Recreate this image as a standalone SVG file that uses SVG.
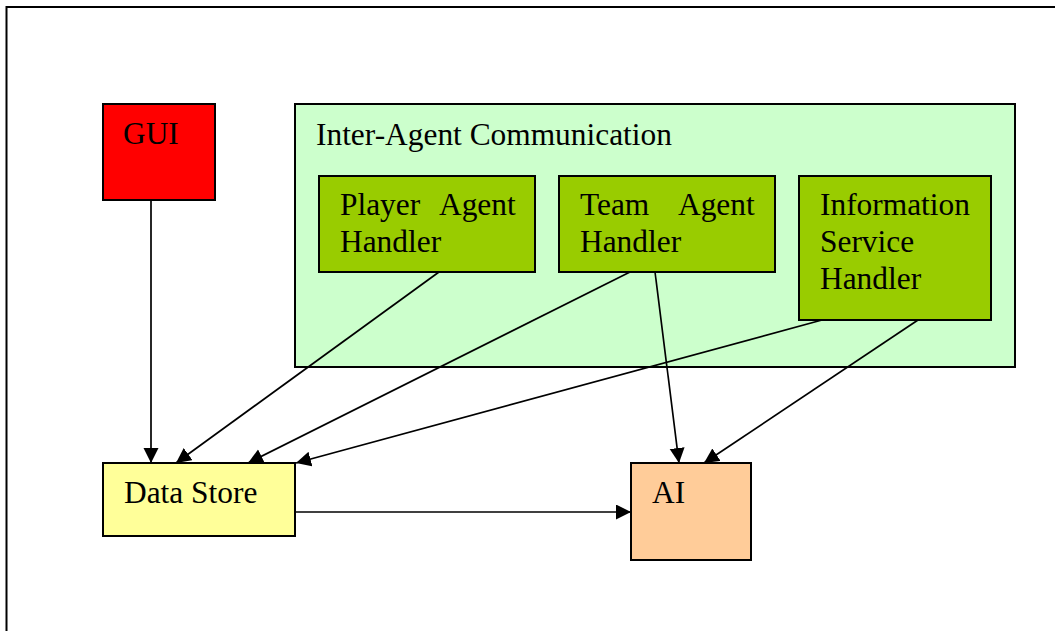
<svg xmlns="http://www.w3.org/2000/svg" width="1055" height="631" viewBox="0 0 1055 631">
  <style>
    .box { stroke: #000; stroke-width: 2; }
    .lbl { font-family: "Liberation Serif", "Times New Roman", serif; font-size: 31.4px; fill: #000; }
    .link { stroke: #000; stroke-width: 1.7; fill: none; marker-end: url(#head); }
  </style>
  <defs>
    <marker id="head" markerUnits="userSpaceOnUse" markerWidth="17" markerHeight="16" refX="15" refY="7.5" orient="auto">
      <path d="M0,0 L15,7.5 L0,15 z" fill="#000"/>
    </marker>
  </defs>

  <rect width="1055" height="631" fill="#fff"/>
  <!-- page frame -->
  <path d="M6.5,640 V7 H1060" fill="none" stroke="#000" stroke-width="2"/>

  <g id="gui">
    <rect class="box" x="103" y="104" width="112" height="96" fill="#ff0000"/>
    <text class="lbl" x="123" y="144">GUI</text>
  </g>

  <g id="inter-agent">
    <rect class="box" x="295" y="104" width="720" height="263" fill="#ccffcc"/>
    <text class="lbl" x="316" y="145">Inter-Agent Communication</text>
  </g>

  <g id="player-agent-handler">
    <rect class="box" x="319" y="176" width="216" height="96" fill="#99cc00"/>
    <text class="lbl" x="340" y="215">Player</text>
    <text class="lbl" x="439" y="215">Agent</text>
    <text class="lbl" x="340" y="252">Handler</text>
  </g>

  <g id="team-agent-handler">
    <rect class="box" x="559" y="176" width="216" height="96" fill="#99cc00"/>
    <text class="lbl" x="580" y="215">Team</text>
    <text class="lbl" x="678" y="215">Agent</text>
    <text class="lbl" x="580" y="252">Handler</text>
  </g>

  <g id="information-service-handler">
    <rect class="box" x="799" y="176" width="192" height="144" fill="#99cc00"/>
    <text class="lbl" x="820" y="215">Information</text>
    <text class="lbl" x="820" y="252">Service</text>
    <text class="lbl" x="820" y="289">Handler</text>
  </g>

  <g id="data-store">
    <rect class="box" x="103" y="463" width="192" height="73" fill="#ffff99"/>
    <text class="lbl" x="124" y="503">Data Store</text>
  </g>

  <g id="ai">
    <rect class="box" x="631" y="463" width="120" height="97" fill="#ffcc99"/>
    <text class="lbl" x="652" y="503">AI</text>
  </g>

  <g id="connectors">
    <line class="link" x1="151" y1="200" x2="151" y2="463"/>
    <line class="link" x1="439" y1="272" x2="176" y2="463"/>
    <line class="link" x1="630" y1="272" x2="248" y2="463"/>
    <line class="link" x1="822" y1="320" x2="296" y2="463"/>
    <line class="link" x1="655" y1="272" x2="679" y2="463"/>
    <line class="link" x1="918" y1="320" x2="704" y2="463"/>
    <line class="link" x1="295" y1="512" x2="631" y2="512"/>
  </g>
</svg>
